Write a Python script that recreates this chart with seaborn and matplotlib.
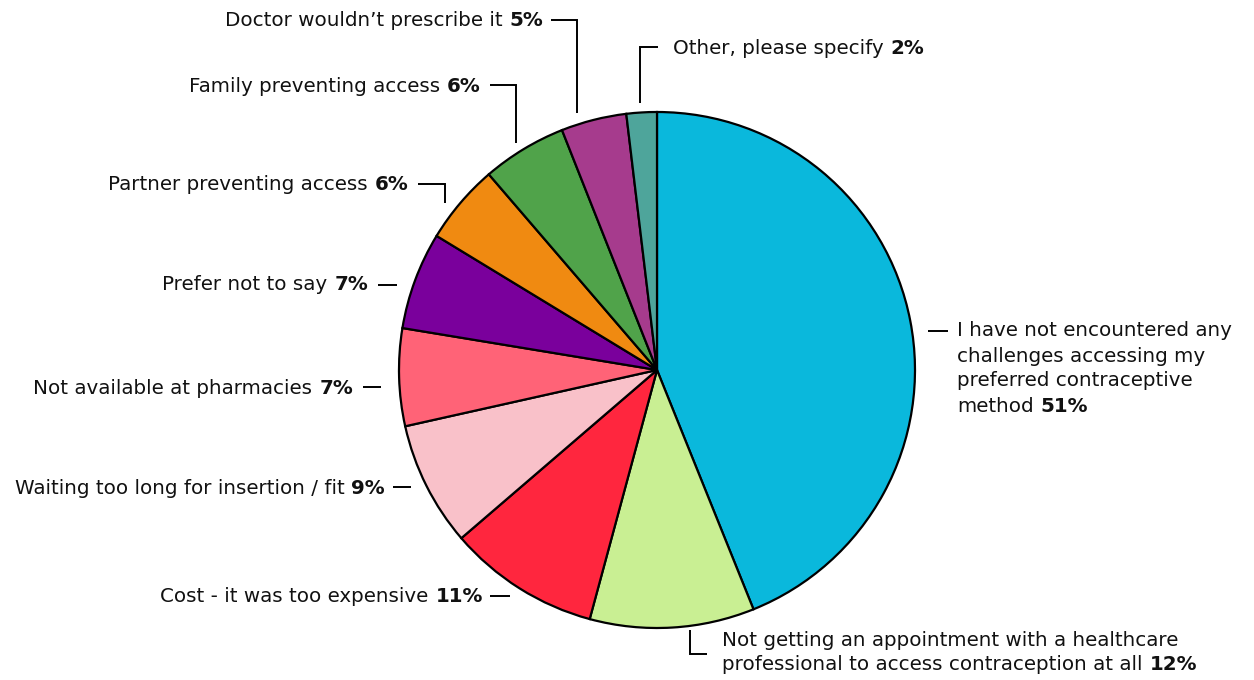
import matplotlib
matplotlib.use("Agg")
import matplotlib.pyplot as plt
import seaborn as sns

# ---- data ----
categories = [
    "I have not encountered any challenges accessing my preferred contraceptive method",
    "Not getting an appointment with a healthcare professional to access contraception at all",
    "Cost - it was too expensive",
    "Waiting too long for insertion / fit",
    "Not available at pharmacies",
    "Prefer not to say",
    "Partner preventing access",
    "Family preventing access",
    "Doctor wouldn\u2019t prescribe it",
    "Other, please specify",
]
label_values = ["51%", "12%", "11%", "9%", "7%", "7%", "6%", "6%", "5%", "2%"]
# wedge shares as drawn in the reference (angular share of the circle, %)
wedge_shares = [43.9, 10.3, 9.5, 7.8, 6.1, 6.1, 5.0, 5.3, 4.1, 1.9]
colors = ["#0AB8DC", "#C9EF93", "#FF263E", "#F9C1C9", "#FF6377",
          "#7A009C", "#F08A11", "#50A34A", "#A63B8D", "#4EA59B"]

sns.set_theme(style="white")
plt.rcParams["font.family"] = ["DejaVu Sans"]

W, H = 1254, 680
fig = plt.figure(figsize=(W / 100, H / 100), dpi=100)
ax = fig.add_axes([0, 0, 1, 1])

CX, CY, R = 657, H - 370, 258
ax.pie(wedge_shares, colors=colors, startangle=90, counterclock=False,
       radius=R, center=(CX, CY),
       wedgeprops=dict(edgecolor="black", linewidth=1.6))
ax.set_xlim(0, W)
ax.set_ylim(0, H)
ax.set_aspect("equal")
ax.axis("off")

FS = 14.3
GAP = 7
renderer = fig.canvas.get_renderer()


def width_of(t):
    return t.get_window_extent(renderer=renderer).width


def Y(yp):
    return H - yp


def right_label(x_right, yp, normal, bold):
    tb = ax.text(x_right, Y(yp), bold, ha="right", va="center",
                 fontsize=FS, fontweight="bold", color="#111111")
    w = width_of(tb)
    ax.text(x_right - w - GAP, Y(yp), normal, ha="right", va="center",
            fontsize=FS, color="#111111")


def left_label(x_left, yp, normal, bold=None):
    tn = ax.text(x_left, Y(yp), normal, ha="left", va="center",
                 fontsize=FS, color="#111111")
    if bold:
        w = width_of(tn)
        ax.text(x_left + w + GAP, Y(yp), bold, ha="left", va="center",
                fontsize=FS, fontweight="bold", color="#111111")


def line(xs, ys):
    ax.plot(xs, [Y(v) for v in ys], color="black", lw=1.4,
            solid_capstyle="butt", solid_joinstyle="miter")


# left side labels
right_label(543, 21, categories[8], label_values[8])
line([551, 577, 577], [20, 20, 113])

right_label(481, 86, categories[7], label_values[7])
line([490, 516, 516], [85, 85, 143])

right_label(408, 185, categories[6], label_values[6])
line([418, 445, 445], [184, 184, 203])

right_label(368, 285, categories[5], label_values[5])
line([378, 397], [285, 285])

right_label(353, 388, categories[4], label_values[4])
line([363, 381], [387, 387])

right_label(385, 488, categories[3], label_values[3])
line([393, 411], [487, 487])

right_label(483, 597, categories[2], label_values[2])
line([490, 510], [596, 596])

# top right "Other"
left_label(673, 48, categories[9], label_values[9])
line([640, 640, 658], [103, 47, 47])

# right main label
rl = ["I have not encountered any", "challenges accessing my",
      "preferred contraceptive"]
for i, s in enumerate(rl):
    left_label(957, 331 + 25 * i, s)
left_label(957, 406, "method", label_values[0])
line([928, 948], [331, 331])

# bottom label
left_label(722, 640, "Not getting an appointment with a healthcare")
left_label(722, 665, "professional to access contraception at all", label_values[1])
line([690, 690, 707], [630, 654, 654])

fig.savefig("out.png", dpi=100, facecolor="white")
